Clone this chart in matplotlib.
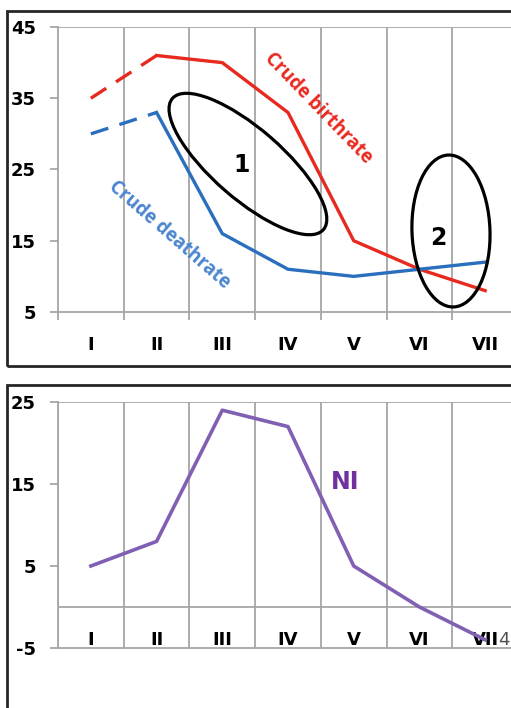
import matplotlib
matplotlib.use("Agg")
import matplotlib.pyplot as plt
from matplotlib.patches import Ellipse, Rectangle
from matplotlib.transforms import ScaledTranslation

# Demographic transition stages
stages = ["I", "II", "III", "IV", "V", "VI", "VII"]
birth_rate = [35, 41, 40, 33, 15, 11, 8]
death_rate = [30, 33, 16, 11, 10, 11, 12]
natural_increase = [5, 8, 24, 22, 5, 0, -4]

top_yticks = [5, 15, 25, 35, 45]
bottom_yticks = [-5, 5, 15, 25]

RED = "#e8291f"
BLUE = "#2a6fbe"
BLUE_TXT = "#4a84cf"
PURPLE = "#8160b3"
PURPLE_TXT = "#7030a0"
GRID = "#a6a6a6"
FONT = "DejaVu Sans"

W, H = 511, 708
fig = plt.figure(figsize=(W / 100, H / 100), dpi=100)
fig.patch.set_facecolor("white")

def px_rect(x0, y0, x1, y1):
    return [x0 / W, 1 - y1 / H, (x1 - x0) / W, (y1 - y0) / H]

# Frames around each panel
for (x0, y0, x1, y1) in [(7, 11, 530, 366), (7, 385, 530, 725)]:
    l, b, w, h = px_rect(x0, y0, x1, y1)
    fig.patches.append(Rectangle((l, b), w, h, transform=fig.transFigure,
                                 fill=False, lw=2.0, ec="#262626", zorder=0))

n = len(stages)
xs = list(range(1, n + 1))
bounds = [i + 0.5 for i in range(n + 1)]


def style_axes(ax, ylim, yticks):
    ax.set_xlim(0.5, n + 0.5)
    ax.set_ylim(*ylim)
    for s in ["right", "top"]:
        ax.spines[s].set_visible(False)
    for s in ["left", "bottom"]:
        ax.spines[s].set_color(GRID)
        ax.spines[s].set_linewidth(1.3)
    ax.set_yticks(yticks)
    ax.set_yticklabels([str(v) for v in yticks], fontsize=13,
                       fontweight="bold", family=FONT)
    ax.tick_params(axis="y", length=6, width=1.3, color=GRID, pad=10)
    ax.axhline(ylim[1], color=GRID, lw=1.3, zorder=1)
    for b in bounds[1:]:
        ax.axvline(b, color=GRID, lw=1.3, zorder=1)


# ---- Top panel: crude birth and death rates ----
ax1 = fig.add_axes(px_rect(58, 27, 518, 312))
style_axes(ax1, (5, 45), top_yticks)
ax1.set_xticks(bounds)
ax1.set_xticklabels([])
ax1.tick_params(axis="x", length=6, width=1.3, color=GRID)
ax1.set_xticks(xs, minor=True)
ax1.set_xticklabels(stages, minor=True, fontsize=13, fontweight="bold",
                    family=FONT)
ax1.tick_params(axis="x", which="minor", length=0, pad=17)

dash = (0, (5.5, 3.5))
ax1.plot(xs[:2], birth_rate[:2], color=RED, lw=2.4, ls=dash,
         solid_capstyle="butt", zorder=3)
ax1.plot(xs[1:], birth_rate[1:], color=RED, lw=2.4, zorder=3)
ax1.plot(xs[:2], death_rate[:2], color=BLUE, lw=2.4, ls=dash,
         solid_capstyle="butt", zorder=3)
ax1.plot(xs[1:], death_rate[1:], color=BLUE, lw=2.4, zorder=3)

ax1.text(4.46, 33.6, "Crude birthrate", color=RED, rotation=-46,
         ha="center", va="center", fontsize=13.5, fontweight="bold",
         family="Open Sans", rotation_mode="anchor", zorder=4)
ax1.text(2.20, 15.8, "Crude deathrate", color=BLUE_TXT, rotation=-41,
         ha="center", va="center", fontsize=13.5, fontweight="bold",
         family="Open Sans", rotation_mode="anchor", zorder=4)


def ring(ax, xc, yc, w_in, h_in, angle):
    tr = fig.dpi_scale_trans + ScaledTranslation(xc, yc, ax.transData)
    ax.add_patch(Ellipse((0, 0), w_in, h_in, angle=angle, transform=tr,
                         fill=False, ec="black", lw=2.3, zorder=5))


ring(ax1, 3.39, 25.77, 2.00, 0.70, -41)
ring(ax1, 6.48, 16.37, 0.78, 1.52, 2)
ax1.text(3.30, 25.6, "1", fontsize=17, fontweight="bold", family=FONT,
         ha="center", va="center", zorder=6)
ax1.text(6.28, 15.4, "2", fontsize=17, fontweight="bold", family=FONT,
         ha="center", va="center", zorder=6)

# ---- Bottom panel: natural increase ----
ax2 = fig.add_axes(px_rect(58, 402, 518, 648))
style_axes(ax2, (-5, 25), bottom_yticks)
ax2.set_xticks([])
ax2.axhline(0, color=GRID, lw=1.3, zorder=1)
ax2.axvline(0.5, color=GRID, lw=1.3, zorder=1)
for x, s in zip(xs, stages):
    ax2.text(x, -5.1, s, ha="center", va="bottom", fontsize=13,
             fontweight="bold", family=FONT, zorder=2)
ax2.text(7.20, -5.1, "4", ha="left", va="bottom", fontsize=13,
         color="#505050", family=FONT, zorder=2)

ax2.plot(xs, natural_increase, color=PURPLE, lw=2.6, zorder=3)
ax2.text(4.87, 15.2, "NI", color=PURPLE_TXT, fontsize=17,
         fontweight="bold", family=FONT, ha="center", va="center")

fig.savefig("out.png", dpi=100)
